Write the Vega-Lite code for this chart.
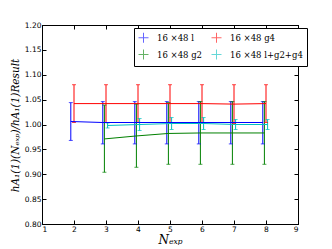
{
  "$schema": "https://vega.github.io/schema/vega-lite/v6.json",
  "autosize": "none",
  "width": 256,
  "height": 199,
  "padding": {"left": 42, "top": 25, "right": 34, "bottom": 25},
  "background": "white",
  "config": {
    "view": {"stroke": "black", "strokeWidth": 1},
    "axis": {
      "domainColor": "black", "tickColor": "black", "tickSize": -4, "labelPadding": 5,
      "labelFont": "DejaVu Sans", "labelFontSize": 7.5, "labelColor": "black", "grid": false, "labelOverlap": false,
      "titleFont": "DejaVu Serif", "titleFontStyle": "italic", "titleFontWeight": "normal", "titleColor": "black"
    }
  },
  "data": {"values": [
    {"s": "16 ×48 l", "x": 1.9, "y": 1.006, "lo": 0.968, "hi": 1.044},
    {"s": "16 ×48 l", "x": 2.9, "y": 1.004, "lo": 0.961, "hi": 1.046},
    {"s": "16 ×48 l", "x": 3.9, "y": 1.004, "lo": 0.961, "hi": 1.046},
    {"s": "16 ×48 l", "x": 4.9, "y": 1.004, "lo": 0.961, "hi": 1.046},
    {"s": "16 ×48 l", "x": 5.9, "y": 1.004, "lo": 0.961, "hi": 1.046},
    {"s": "16 ×48 l", "x": 6.9, "y": 1.004, "lo": 0.961, "hi": 1.046},
    {"s": "16 ×48 l", "x": 7.9, "y": 1.004, "lo": 0.961, "hi": 1.046},
    {"s": "16 ×48 g2", "x": 2.95, "y": 0.971, "lo": 0.904, "hi": 1.039},
    {"s": "16 ×48 g2", "x": 3.95, "y": 0.977, "lo": 0.914, "hi": 1.041},
    {"s": "16 ×48 g2", "x": 4.95, "y": 0.982, "lo": 0.920, "hi": 1.044},
    {"s": "16 ×48 g2", "x": 5.95, "y": 0.983, "lo": 0.920, "hi": 1.046},
    {"s": "16 ×48 g2", "x": 6.95, "y": 0.983, "lo": 0.920, "hi": 1.046},
    {"s": "16 ×48 g2", "x": 7.95, "y": 0.983, "lo": 0.920, "hi": 1.046},
    {"s": "16 ×48 g4", "x": 2.0, "y": 1.042, "lo": 1.004, "hi": 1.080},
    {"s": "16 ×48 g4", "x": 3.0, "y": 1.042, "lo": 1.004, "hi": 1.080},
    {"s": "16 ×48 g4", "x": 4.0, "y": 1.042, "lo": 1.004, "hi": 1.080},
    {"s": "16 ×48 g4", "x": 5.0, "y": 1.042, "lo": 1.004, "hi": 1.080},
    {"s": "16 ×48 g4", "x": 6.0, "y": 1.042, "lo": 1.004, "hi": 1.080},
    {"s": "16 ×48 g4", "x": 7.0, "y": 1.041, "lo": 1.002, "hi": 1.080},
    {"s": "16 ×48 g4", "x": 8.0, "y": 1.042, "lo": 1.004, "hi": 1.080},
    {"s": "16 ×48 l+g2+g4", "x": 3.05, "y": 0.998, "lo": 0.993, "hi": 1.003},
    {"s": "16 ×48 l+g2+g4", "x": 4.05, "y": 1.000, "lo": 0.988, "hi": 1.012},
    {"s": "16 ×48 l+g2+g4", "x": 5.05, "y": 1.002, "lo": 0.990, "hi": 1.014},
    {"s": "16 ×48 l+g2+g4", "x": 6.05, "y": 1.002, "lo": 0.990, "hi": 1.014},
    {"s": "16 ×48 l+g2+g4", "x": 7.05, "y": 1.000, "lo": 0.990, "hi": 1.010},
    {"s": "16 ×48 l+g2+g4", "x": 8.05, "y": 1.000, "lo": 0.990, "hi": 1.010}
  ]},
  "resolve": {"axis": {"x": "independent", "y": "independent"}},
  "encoding": {
    "color": {"field": "s", "type": "nominal",
      "scale": {"domain": ["16 ×48 l", "16 ×48 g4", "16 ×48 g2", "16 ×48 l+g2+g4"],
                "range": ["#0000ff", "#ff0000", "#008000", "#00bfbf"]},
      "legend": {"title": null, "orient": "none", "legendX": 92, "legendY": 3, "columns": 2,
        "direction": "horizontal",
        "strokeColor": "black", "fillColor": "white", "padding": 4, "columnPadding": 6, "rowPadding": 2,
        "symbolType": "M-1,0L1,0M0,-1L0,1", "symbolSize": 100, "symbolStrokeWidth": 1, "symbolFillColor": "transparent",
        "labelFont": "DejaVu Serif", "labelFontSize": 8.5, "labelColor": "black", "labelOffset": 8,
        "symbolOpacity": 0.6}}
  },
  "layer": [
    {"mark": {"type": "rule", "strokeWidth": 1},
     "encoding": {
      "x": {"field": "x", "type": "quantitative",
        "scale": {"domain": [1, 9], "nice": false, "zero": false},
        "axis": {"values": [1,2,3,4,5,6,7,8,9], "title": "Nₑₓₚ", "titleFontSize": 12, "titlePadding": 2}},
      "y": {"field": "lo", "type": "quantitative",
        "scale": {"domain": [0.8, 1.2], "nice": false, "zero": false},
        "axis": {"values": [0.8,0.85,0.9,0.95,1.0,1.05,1.1,1.15,1.2], "format": ".2f",
          "title": "hA₁(1)(Nₑₓₚ)/hA₁(1)Result", "titleFontSize": 10.5, "titleX": -27, "titleY": 100, "titleAngle": -90, "titleBaseline": "middle"}},
      "y2": {"field": "hi"}}},
    {"mark": {"type": "tick", "orient": "horizontal", "size": 4, "thickness": 1},
     "encoding": {"x": {"field": "x", "type": "quantitative", "axis": null}, "y": {"field": "lo", "type": "quantitative", "axis": null}}},
    {"mark": {"type": "tick", "orient": "horizontal", "size": 4, "thickness": 1},
     "encoding": {"x": {"field": "x", "type": "quantitative", "axis": null}, "y": {"field": "hi", "type": "quantitative", "axis": null}}},
    {"mark": {"type": "line", "strokeWidth": 1},
     "encoding": {"x": {"field": "x", "type": "quantitative", "axis": null}, "y": {"field": "y", "type": "quantitative", "axis": null}}},
    {"mark": {"type": "point", "opacity": 0},
     "encoding": {
      "x": {"field": "x", "type": "quantitative",
        "axis": {"orient": "top", "values": [1,2,3,4,5,6,7,8,9], "labels": false, "title": null}},
      "y": {"field": "y", "type": "quantitative",
        "axis": {"orient": "right", "values": [0.8,0.85,0.9,0.95,1.0,1.05,1.1,1.15,1.2], "labels": false, "title": null}}}}
  ]
}
